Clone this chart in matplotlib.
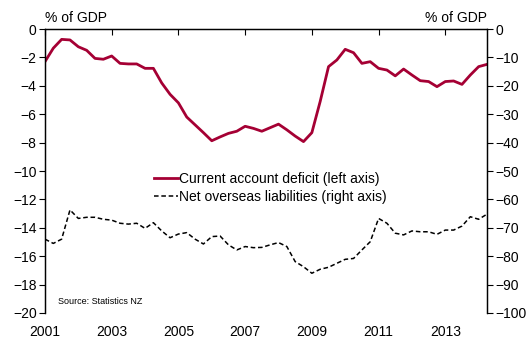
import numpy as np
import matplotlib.pyplot as plt

plt.rcParams['font.family'] = ['Liberation Sans', 'DejaVu Sans']

# quarterly, 2001 Q1 .. 2014 Q2
current_account = [
    -2.3, -1.35, -0.73, -0.77,
    -1.25, -1.5, -2.07, -2.13,
    -1.9, -2.42, -2.46, -2.46,
    -2.77, -2.77, -3.8, -4.6,
    -5.2, -6.2, -6.75, -7.3,
    -7.87, -7.6, -7.35, -7.2,
    -6.85, -7.0, -7.2, -6.95,
    -6.7, -7.1, -7.54, -7.93,
    -7.3, -5.1, -2.65, -2.18,
    -1.43, -1.67, -2.42, -2.3,
    -2.77, -2.89, -3.3, -2.82,
    -3.24, -3.64, -3.7, -4.06,
    -3.7, -3.66, -3.9, -3.24,
    -2.65, -2.49,
]
net_liabilities = [
    -74.0, -75.5, -74.0, -63.7,
    -66.7, -66.3, -66.3, -67.0,
    -67.3, -68.4, -68.7, -68.4,
    -70.2, -68.2, -71.1, -73.5,
    -72.2, -71.7, -74.0, -75.7,
    -73.1, -72.9, -76.0, -77.8,
    -76.6, -77.0, -76.9, -76.0,
    -75.2, -76.6, -81.9, -83.7,
    -86.0, -84.6, -83.9, -82.5,
    -81.1, -80.8, -77.8, -74.9,
    -66.7, -68.4, -71.9, -72.5,
    -71.1, -71.4, -71.4, -72.3,
    -70.8, -70.8, -69.4, -66.1,
    -67.0, -65.2,
]
dates = 2001 + np.arange(len(current_account)) / 4
years = [2001, 2003, 2005, 2007, 2009, 2011, 2013]

fs = 10

fig = plt.figure(figsize=(5.29, 3.47), dpi=100)
ax = fig.add_axes([0.085, 0.098, 0.8356, 0.8184])
ax2 = ax.twinx()

l1, = ax.plot(dates, current_account, color='#A50034', lw=2.0,
              label='Current account deficit (left axis)')
l2, = ax2.plot(dates, net_liabilities, color='black', lw=1.1,
               dashes=(3, 1.8), label='Net overseas liabilities (right axis)')

ax.set_xlim(2001, 2014.25)
ax.set_ylim(-20, 0)
ax2.set_ylim(-100, 0)
ax.set_yticks(np.arange(-20, 1, 2))
ax2.set_yticks(np.arange(-100, 1, 10))
ax.set_xticks(years)

for a in (ax, ax2):
    a.spines['bottom'].set_visible(False)
    for s in a.spines.values():
        s.set_linewidth(0.9)
ax.tick_params(axis='x', top=True, bottom=False, direction='in',
               length=4, labelsize=fs, pad=9)
ax.tick_params(axis='y', direction='out', length=4, labelsize=fs, pad=2)
ax2.tick_params(axis='y', direction='out', length=4, labelsize=fs, pad=2)

fig.text(0.085, 0.928, '% of GDP', fontsize=fs, ha='left', va='bottom')
fig.text(0.9206, 0.928, '% of GDP', fontsize=fs, ha='right', va='bottom')
ax.text(2001.39, -19.2, 'Source: Statistics NZ', fontsize=6.5, va='center')

ax2.legend(handles=[l1, l2], loc='upper left', bbox_to_anchor=(0.233, 0.515),
           frameon=False, fontsize=fs, handlelength=1.75, handletextpad=0.1,
           labelspacing=0.28, borderaxespad=0)

fig.savefig('out.png', dpi=100)
